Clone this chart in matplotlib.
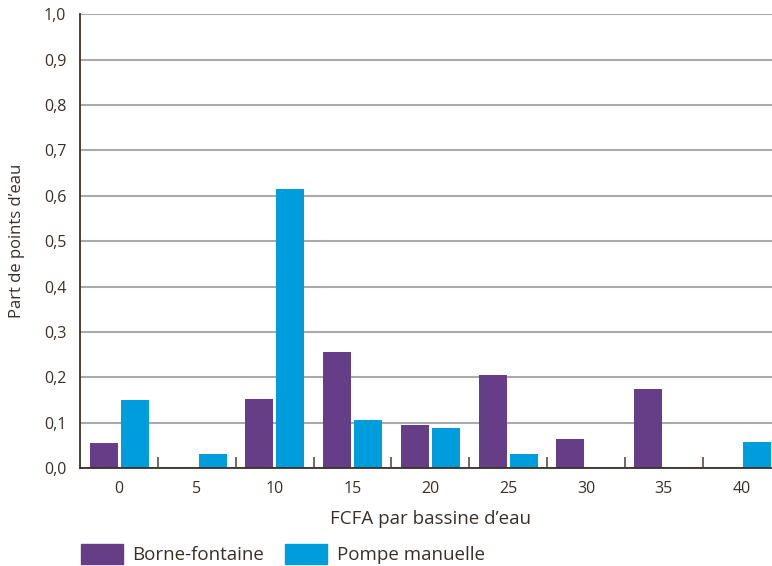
import matplotlib
matplotlib.use("Agg")
import matplotlib.pyplot as plt
from matplotlib.patches import Patch
import numpy as np

categories = ["0", "5", "10", "15", "20", "25", "30", "35", "40"]
borne_fontaine = [0.055, 0.0, 0.152, 0.255, 0.095, 0.205, 0.064, 0.174, 0.0]
pompe_manuelle = [0.150, 0.031, 0.615, 0.106, 0.088, 0.031, 0.0, 0.0, 0.057]
y_ticks = [0.0, 0.1, 0.2, 0.3, 0.4, 0.5, 0.6, 0.7, 0.8, 0.9, 1.0]

PURPLE = "#663e87"
BLUE = "#009ddd"
TEXT = "#3a302a"

plt.rcParams["font.family"] = ["Open Sans", "DejaVu Sans"]

fig = plt.figure(figsize=(7.72, 5.66), dpi=100)
# right edge runs slightly past the figure, as in the source
ax = fig.add_axes([0.104, 0.173, 0.907, 0.802])

x = np.arange(len(categories))
w = 0.36
ax.bar(x - 0.2, borne_fontaine, width=w, color=PURPLE, zorder=3)
ax.bar(x + 0.2, pompe_manuelle, width=w, color=BLUE, zorder=3)

ax.set_xlim(-0.5, len(categories) - 0.5)
ax.set_ylim(0, 1.0)
ax.set_yticks(y_ticks)
ax.set_yticklabels([f"{v:.1f}".replace(".", ",") for v in y_ticks])
ax.tick_params(axis="y", length=0, pad=10, labelsize=11.5, labelcolor=TEXT)
ax.yaxis.grid(True, color="#aaaaaa", linewidth=1.5, zorder=0)

# boundary ticks (major, no labels) and centred labels (minor)
ax.set_xticks(x[:-1] + 0.5)
ax.set_xticklabels([])
ax.tick_params(axis="x", which="major", direction="in", length=8, width=1.2, color="#5a4e46")
ax.set_xticks(x, minor=True)
ax.set_xticklabels(categories, minor=True)
ax.tick_params(axis="x", which="minor", length=0, pad=9, labelsize=11.5, labelcolor=TEXT)

for s in ("top", "right"):
    ax.spines[s].set_visible(False)
for s in ("left", "bottom"):
    ax.spines[s].set_color("#3a302a")
    ax.spines[s].set_linewidth(1.3)
    ax.spines[s].set_zorder(4)

ax.set_xlabel("FCFA par bassine d\u2019eau", fontsize=13.5, color=TEXT, labelpad=10)
ax.set_ylabel("Part de points d\u2019eau", fontsize=12, color=TEXT, labelpad=14)

handles = [Patch(color=PURPLE, label="Borne-fontaine"),
           Patch(color=BLUE, label="Pompe manuelle")]
fig.legend(handles=handles, loc="lower left", bbox_to_anchor=(0.083, -0.027),
           ncol=2, frameon=False, fontsize=13.5, handlelength=2.25, handleheight=1.2,
           handletextpad=0.5, columnspacing=1.1, labelcolor=TEXT)

fig.savefig("out.png", dpi=100)
